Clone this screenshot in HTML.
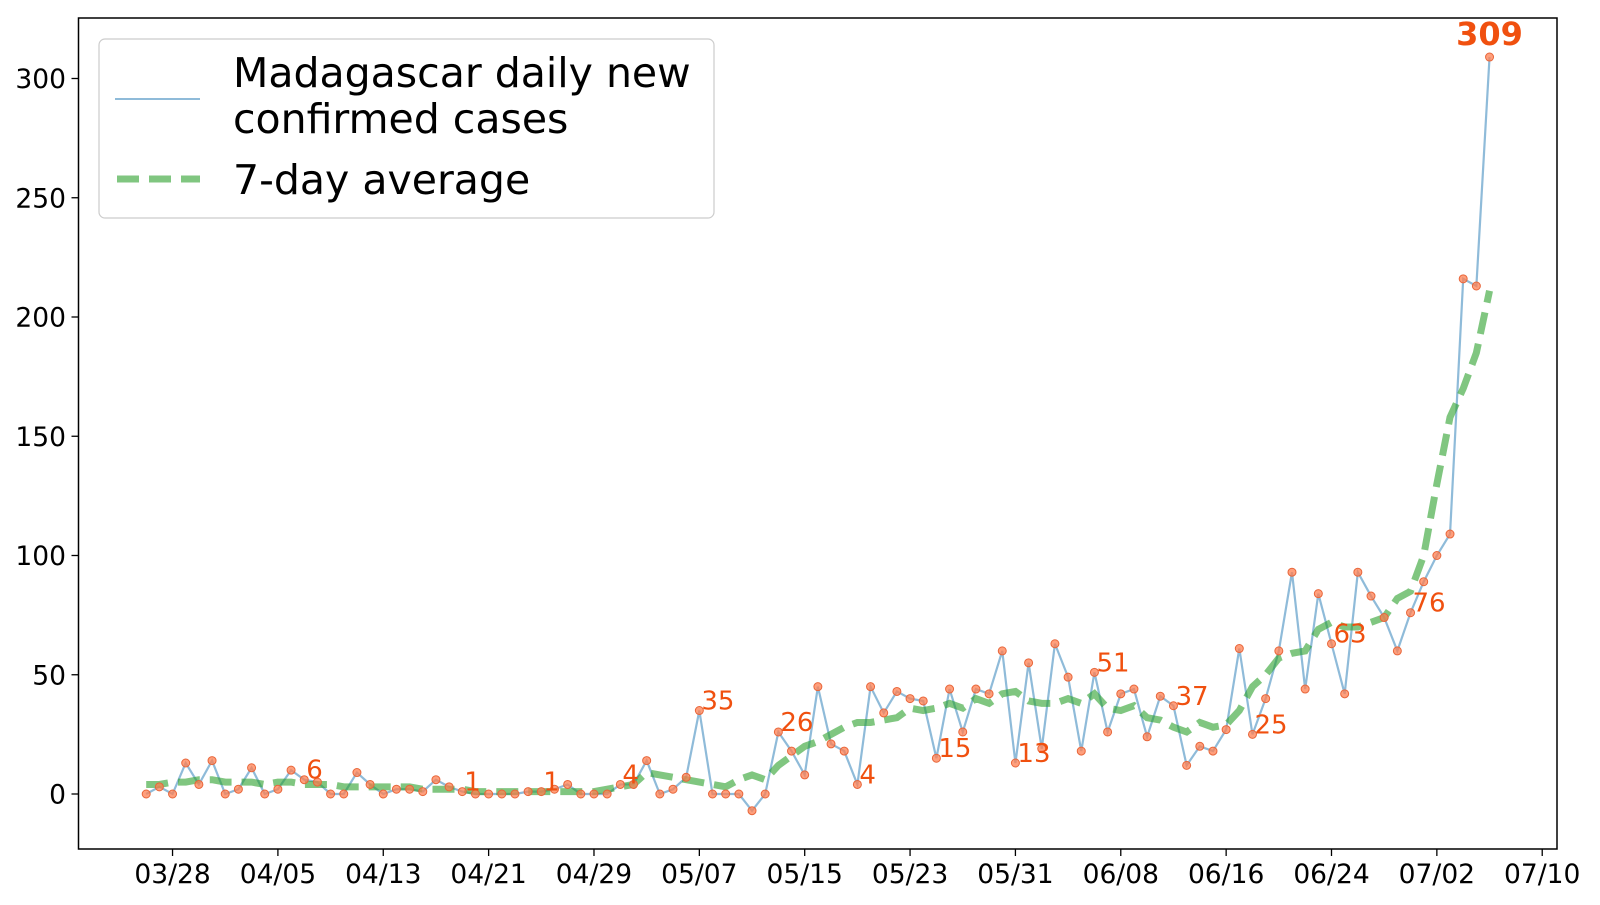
<!DOCTYPE html>
<html><head><meta charset="utf-8"><style>
html,body{margin:0;padding:0;background:#fff;}
svg text{font-family:"DejaVu Sans","Liberation Sans",sans-serif;}
</style></head><body>
<svg id="chart" width="1600" height="900" viewBox="0 0 1600 900" xmlns="http://www.w3.org/2000/svg">
<rect x="0" y="0" width="1600" height="900" fill="#fff"/>
<g id="plot"></g>
<rect x="78.5" y="18" width="1478.5" height="831" fill="none" stroke="#000" stroke-width="1.5"/>
<g id="xaxis"></g><g id="yaxis"></g>
<g>
<rect x="99" y="39" width="615" height="179" rx="6" fill="#fff" fill-opacity="0.85" stroke="#ccc" stroke-width="1.2"/>
<line x1="115" y1="99" x2="200" y2="99" stroke="#1f77b4" stroke-opacity="0.5" stroke-width="2"/>
<text x="233" y="87" font-size="41">Madagascar daily new</text>
<text x="233" y="133" font-size="41">confirmed cases</text>
<line x1="117" y1="179" x2="200" y2="179" stroke="#2ca02c" stroke-opacity="0.6" stroke-width="7" stroke-dasharray="22,10"/>
<text x="233" y="194" font-size="41">7-day average</text>
</g>
</svg>
<script>
const daily = [0,3,0,13,4,14,0,2,11,0,2,10,6,5,
0,0,9,4,0,2,2,1,6,3,1,
0,0,0,0,1,1,2,4,0,0,0,4,4,14,0,2,7,35,
0,0,0,-7,0,26,18,8,45,21,18,4,45,
34,43,40,39,15,44,26,44,42,60,13,55,19,63,
49,18,51,26,42,44,24,41,37,12,20,18,27,
61,25,40,60,93,44,84,63,42,93,83,74,60,76,89,100,109,216,213,309];
const average = [4,4,5,5,6,6,5,5,5,4,5,5,4,4,
4,3,3,3,3,3,3,2,2,2,2,
1,1,1,1,1,1,1,1,1,1,2,3,4,9,8,7,6,5,
4,3,6,8,6,12,16,20,22,25,28,30,30,
31,32,36,35,36,38,36,40,38,42,43,39,38,38,
40,38,42,36,35,37,32,31,28,26,30,28,29,
35,45,50,57,59,60,69,72,70,70,72,74,82,85,100,130,158,170,185,211];
const labelIdx = [12,24,30,36,42,48,54,60,66,72,78,84,90,96];
const xTickLabels = ["03/28","04/05","04/13","04/21","04/29","05/07","05/15","05/23","05/31","06/08","06/16","06/24","07/02","07/10"];
const xTickDays = [2,10,18,26,34,42,50,58,66,74,82,90,98,106];
const yTicks = [0,50,100,150,200,250,300];

const NS="http://www.w3.org/2000/svg";
const X = d => 146.2 + d*13.17;
const Y = v => 794 - v*2.385;
function mk(tag, attrs, parent){const e=document.createElementNS(NS,tag);for(const k in attrs)e.setAttribute(k,attrs[k]);parent.appendChild(e);return e;}
const plot=document.getElementById('plot'), xa=document.getElementById('xaxis'), ya=document.getElementById('yaxis');

const dl=mk('polyline',{points:daily.map((v,i)=>X(i)+','+Y(v)).join(' '),fill:'none',stroke:'#1f77b4','stroke-opacity':0.5,'stroke-width':2.2},plot);


const al=mk('polyline',{points:average.map((v,i)=>X(i)+','+Y(v)).join(' '),fill:'none',stroke:'#2ca02c','stroke-opacity':0.6,'stroke-width':7,'stroke-dasharray':'22,10'},plot);


daily.forEach((v,i)=>{
  const c=mk('circle',{cx:X(i),cy:Y(v),r:4,fill:'#ff7f50','fill-opacity':0.75,stroke:'#e8663a','stroke-width':1},plot);
  
  
});
labelIdx.forEach(i=>{
  const t=mk('text',{x:X(i)+2,y:Y(daily[i])-1,'font-size':26,fill:'#f0500f'},plot);
  t.textContent=String(daily[i]);
  
  
});
const last=daily.length-1;
const lt=mk('text',{x:X(last),y:Y(daily[last])-12,'font-size':32,'font-weight':'bold','text-anchor':'middle',fill:'#f0500f'},plot);
lt.textContent=String(daily[last]);



xTickDays.forEach((d,k)=>{
  mk('line',{x1:X(d),y1:849,x2:X(d),y2:856,stroke:'#000','stroke-width':1.3},xa);
  const t=mk('text',{x:X(d),y:883,'font-size':26.5,'text-anchor':'middle'},xa);
  t.textContent=xTickLabels[k];
  
  
});
yTicks.forEach(v=>{
  mk('line',{x1:71.5,y1:Y(v),x2:78.5,y2:Y(v),stroke:'#000','stroke-width':1.3},ya);
  const t=mk('text',{x:66,y:Y(v)+9.5,'font-size':26.5,'text-anchor':'end'},ya);
  t.textContent=String(v);
  
  
});
</script>
</body></html>
